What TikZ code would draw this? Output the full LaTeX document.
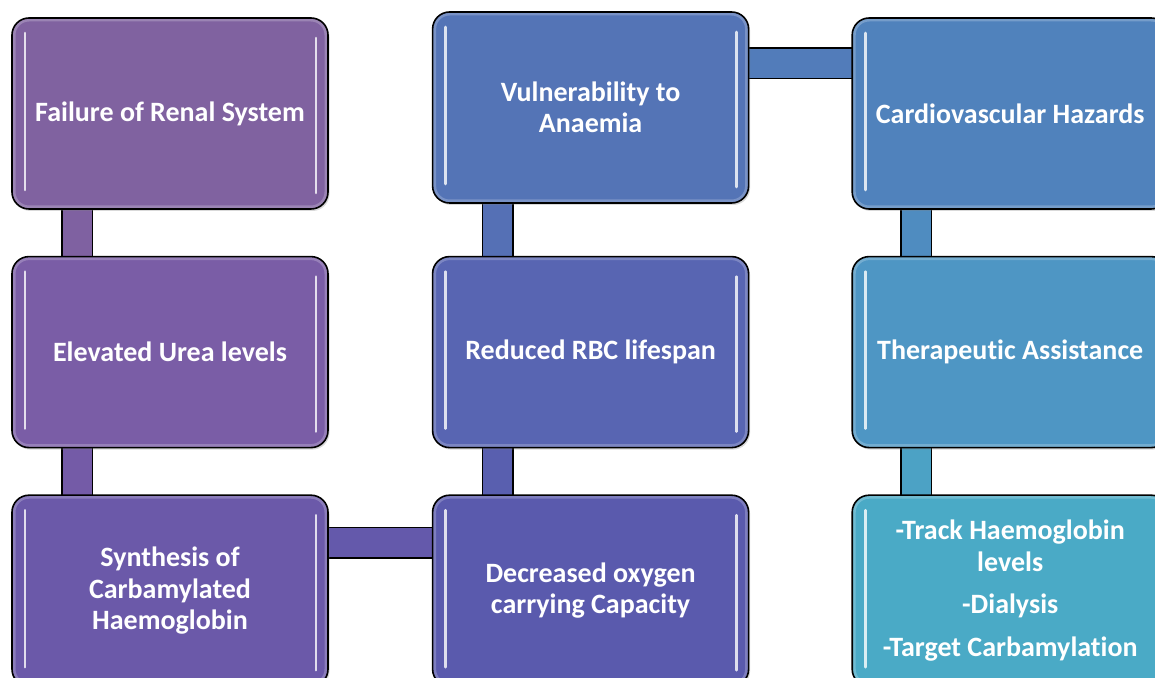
\documentclass[tikz,border=0pt]{standalone}
\usepackage{fontspec}
\setmainfont{Carlito}[Ligatures=NoCommon]
\usetikzlibrary{positioning,calc,backgrounds,shadows}

\definecolor{cfail}{HTML}{8062A0}
\definecolor{curea}{HTML}{7A5DA6}
\definecolor{csynth}{HTML}{6B59A9}
\definecolor{cdecr}{HTML}{5A5AAD}
\definecolor{crbc}{HTML}{5865B2}
\definecolor{cvuln}{HTML}{5474B6}
\definecolor{ccard}{HTML}{5082BC}
\definecolor{cther}{HTML}{4E96C4}
\definecolor{ctrack}{HTML}{4AAAC6}

\begin{document}
\begin{tikzpicture}[
  x=1pt, y=1pt,
  node distance=46pt and 103pt,
  font=\fontsize{28}{31.5}\selectfont\bfseries,
  stage/.style={rectangle, draw=black, line width=1.6pt, rounded corners=17pt,
    fill=#1, minimum width=316pt, minimum height=191pt, inner sep=0pt,
    text=white, align=center,
    drop shadow={shadow xshift=1.5pt, shadow yshift=-2pt, opacity=.3},
    path picture={
      \draw[white, opacity=.22, line width=7pt]
        (path picture bounding box.south west) rectangle
        (path picture bounding box.north east);
      \draw[white, opacity=.8, line width=2.6pt, line cap=round]
        ([xshift=13pt,yshift=-15pt]path picture bounding box.north west) --
        ([xshift=13pt,yshift=19pt]path picture bounding box.south west);
      \draw[white, opacity=.8, line width=2.6pt, line cap=round]
        ([xshift=-12pt,yshift=-20pt]path picture bounding box.north east) --
        ([xshift=-12pt,yshift=16pt]path picture bounding box.south east);
    }},
  bar/.style={draw=black, line width=1.5pt, double distance=29pt, double=#1}
]
\useasboundingbox (0,0) rectangle (1155,677);

\node[stage=cfail] (fail) at (170,563.5) {Failure of Renal System};
\node[stage=curea, below=of fail] (urea) {Elevated Urea levels};
\node[stage=csynth, below=of urea] (synth) {Synthesis of\\Carbamylated\\Haemoglobin};
\node[stage=cdecr, right=of synth] (decr) {Decreased oxygen\\carrying Capacity};
\node[stage=crbc, above=of decr] (rbc) {Reduced RBC lifespan};
\node[stage=cvuln, above=52pt of rbc] (vuln) {Vulnerability to\\Anaemia};
\node[stage=cther, right=102pt of rbc] (ther) {Therapeutic Assistance};
\node[stage=ccard, above=of ther] (card) {Cardiovascular Hazards};
\node[stage=ctrack, below=of ther] (track) {-Track Haemoglobin\\levels\\[11pt]
  -Dialysis\\[11pt] -Target Carbamylation};

\begin{scope}[on background layer]
\draw[bar=cfail!90!curea] ([xshift=-93pt]fail.center) -- ([xshift=-93pt]urea.center);
\draw[bar=curea!60!csynth] ([xshift=-93pt]urea.center) -- ([xshift=-93pt]synth.center);
\draw[bar=csynth!60!cdecr] ([yshift=48pt]synth.center) -- ([yshift=48pt]decr.center);
\draw[bar=cdecr!50!crbc] ([xshift=-93pt]decr.center) -- ([xshift=-93pt]rbc.center);
\draw[bar=crbc!30!cvuln] ([xshift=-93pt]rbc.center) -- ([xshift=-93pt]vuln.center);
\draw[bar=cvuln!40!ccard] ($(card.center)+(0,50)$) -- ($(card.center -| vuln.center)+(0,50)$);
\draw[bar=ccard!50!cther] ([xshift=-94pt]card.center) -- ([xshift=-94pt]ther.center);
\draw[bar=cther!40!ctrack] ([xshift=-94pt]ther.center) -- ([xshift=-94pt]track.center);
\end{scope}
\end{tikzpicture}
\end{document}
